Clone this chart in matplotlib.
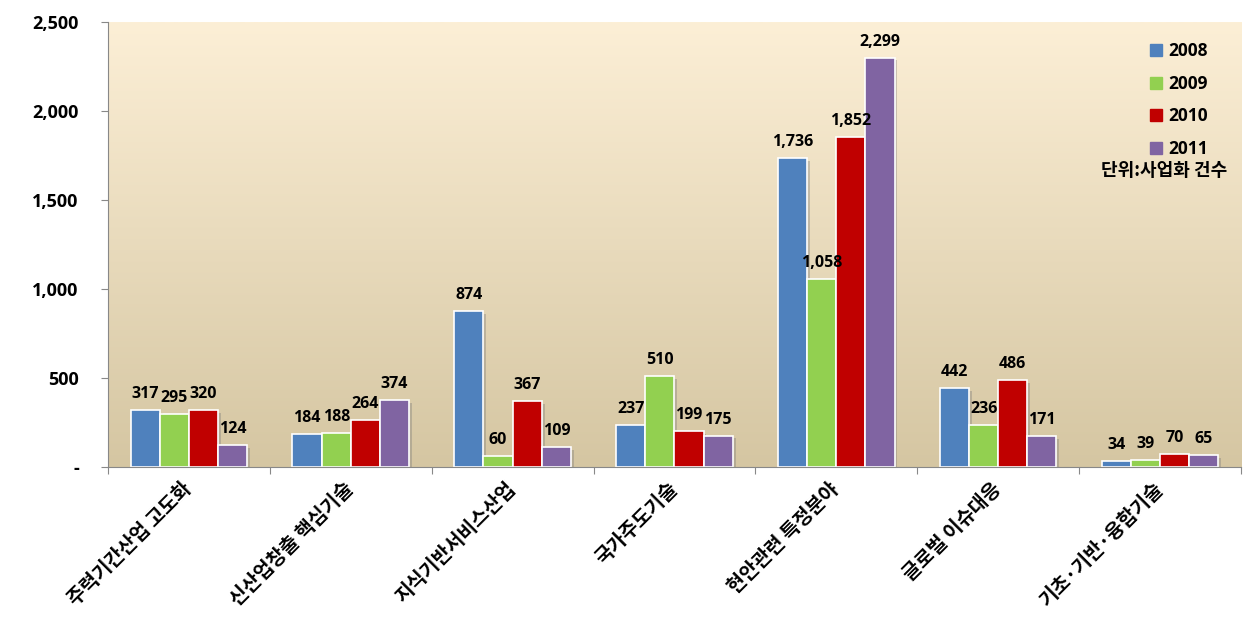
import numpy as np
import matplotlib.pyplot as plt
import matplotlib.patheffects as pe
from matplotlib.lines import Line2D
from matplotlib.colors import LinearSegmentedColormap

plt.rcParams['font.family'] = ['Open Sans', 'Noto Sans CJK KR', 'DejaVu Sans']
kr_font = ['Noto Sans CJK KR', 'DejaVu Sans']

categories = ['주력기간산업 고도화', '신산업창출 핵심기술', '지식기반서비스산업', '국가주도기술',
              '현안관련 특정분야', '글로벌 이슈대응', '기초·기반·융합기술']
years = ['2008', '2009', '2010', '2011']
v2008 = [317, 184, 874, 237, 1736, 442, 34]
v2009 = [295, 188, 60, 510, 1058, 236, 39]
v2010 = [320, 264, 367, 199, 1852, 486, 70]
v2011 = [124, 374, 109, 175, 2299, 171, 65]
series = [v2008, v2009, v2010, v2011]
colors = ['#4F81BD', '#92D050', '#C00000', '#8064A2']

fig = plt.figure(figsize=(12.51, 6.43), dpi=100)
ax = fig.add_axes([0.0863, 0.274, 0.9057, 0.692])

x = np.arange(len(categories))
ax.set_xlim(-0.5, len(categories) - 0.5)
ax.set_ylim(0, 2500)

# gradient background
grad = np.linspace(0, 1, 256).reshape(-1, 1)
cmap = LinearSegmentedColormap.from_list('bg', ['#D5C6A2', '#FCEFD6'])
ax.imshow(grad, extent=[-0.5, len(categories) - 0.5, 0, 2500], origin='lower',
          aspect='auto', cmap=cmap, zorder=0)

w = 0.18
shadow = [pe.SimplePatchShadow(offset=(2, -2), shadow_rgbFace='#777777', alpha=0.35), pe.Normal()]
for i, (vals, c) in enumerate(zip(series, colors)):
    pos = x + (i - 1.5) * w
    bars = ax.bar(pos, vals, w, color=c, edgecolor='white', linewidth=1.2, zorder=3, label=years[i])
    for b in bars:
        b.set_path_effects(shadow)
    for p, v in zip(pos, vals):
        ax.text(p, v + 45, f'{v:,}', ha='center', va='bottom', fontsize=11.5,
                fontweight='bold', zorder=5)

# axes styling
for s in ['top', 'right']:
    ax.spines[s].set_visible(False)
ax.spines['left'].set_color('#888888')
ax.spines['bottom'].set_color('#888888')
ax.spines['left'].set_zorder(4)
ax.spines['bottom'].set_zorder(4)

ax.set_yticks([0, 500, 1000, 1500, 2000, 2500])
ax.set_yticklabels(['-' if t == 0 else f'{t:,}' for t in [0, 500, 1000, 1500, 2000, 2500]],
                   fontsize=13, fontweight='bold')
ax.tick_params(axis='y', length=5, color='#888888', pad=16)

ax.set_xticks(np.arange(-0.5, len(categories)), minor=False)
ax.set_xticklabels([])
ax.set_xticks(x, minor=True)
ax.set_xticklabels(categories, minor=True, rotation=45, ha='right', va='center',
                   rotation_mode='anchor', fontsize=14, fontweight='bold', family=kr_font)
ax.tick_params(axis='x', which='major', length=5, color='#888888')
ax.tick_params(axis='x', which='minor', length=0, pad=14)

handles = [Line2D([], [], marker='s', linestyle='none', markersize=8, color=c) for c in colors]
leg = ax.legend(handles, years, loc='upper right', bbox_to_anchor=(0.985, 0.99), frameon=False,
                prop={'weight': 'bold', 'size': 12.5}, handletextpad=0.2,
                labelspacing=0.85, handlelength=1.0)
ax.text(0.988, 0.665, '단위:사업화 건수', transform=ax.transAxes, ha='right', va='center',
        fontsize=13, fontweight='bold', family=kr_font, zorder=6)

fig.savefig('out.png', dpi=100)
